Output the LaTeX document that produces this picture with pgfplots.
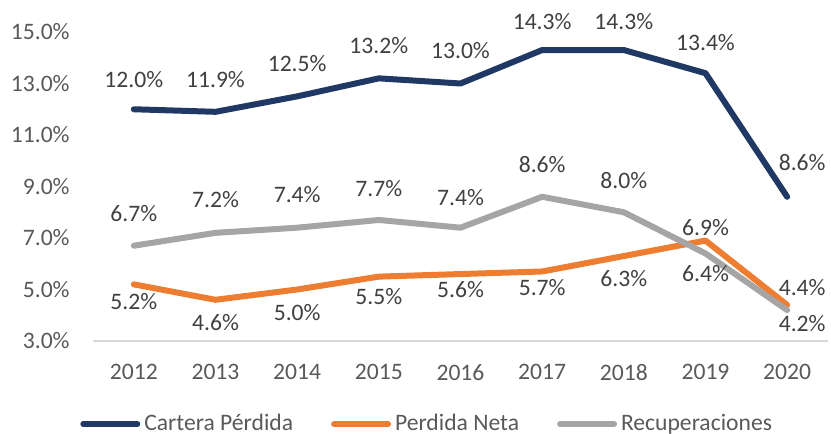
\documentclass[border=0pt]{standalone}
\usepackage{pgfplots}
\pgfplotsset{compat=1.18}
\usepackage{pgfplotstable}
\usepackage{fontspec}
\setmainfont{Carlito}

\definecolor{navy}{HTML}{1F3864}
\definecolor{orng}{HTML}{ED7D31}
\definecolor{gry}{HTML}{A5A5A5}
\definecolor{txt}{HTML}{595959}
\definecolor{lbl}{HTML}{404040}
\definecolor{axgray}{HTML}{D9D9D9}

% year, value, label text, label x/y offset (pt)
\pgfplotstableread{
year val lab lx ly
2012 12.0 12.0 0 15
2013 11.9 11.9 0 16
2014 12.5 12.5 0 16.5
2015 13.2 13.2 0 16.5
2016 13.0 13.0 0 16.7
2017 14.3 14.3 0 14
2018 14.3 14.3 0 14
2019 13.4 13.4 0 15.5
2020 8.6 8.6 7.5 17
}\cartera

\pgfplotstableread{
year val lab lx ly
2012 5.2 5.2 0 -8.5
2013 4.6 4.6 0 -11.5
2014 5.0 5.0 0 -11.7
2015 5.5 5.5 0 -10.2
2016 5.6 5.6 0 -7.5
2017 5.7 5.7 0 -8.2
2018 6.3 6.3 0 -11.5
2019 6.9 6.9 0 6.3
2020 4.4 4.4 7.5 8.5
}\neta

\pgfplotstableread{
year val lab lx ly
2012 6.7 6.7 0 16.3
2013 7.2 7.2 0 16.5
2014 7.4 7.4 0 16.8
2015 7.7 7.7 0 15.5
2016 7.4 7.4 0 15.3
2017 8.6 8.6 0 15.9
2018 8.0 8.0 0 16
2019 6.4 6.4 0 -10.2
2020 4.2 4.2 7.5 -6.5
}\recup

\begin{document}
\begin{tikzpicture}[font=\fontsize{11.8}{14}\selectfont]
\begin{axis}[
    name=ax,
    scale only axis,
    width=367.5pt, height=154.5pt,
    xmin=2011.5, xmax=2020.5,
    ymin=3, ymax=15,
    xtick={2012,2013,...,2020},
    ytick={3,5,...,15},
    /pgf/number format/assume math mode=true,
    xticklabel={\pgfmathprintnumber[1000 sep={}]{\tick}},
    yticklabel={\pgfmathprintnumber[fixed,fixed zerofill,precision=1]{\tick}\%},
    axis lines*=left,
    y axis line style={draw=none},
    x axis line style={draw=axgray, line width=0.75pt},
    major tick length=0pt,
    yticklabel style={text=txt, anchor=east, inner sep=0pt, xshift=-11.5pt},
    xticklabel style={text=txt, anchor=north, inner sep=0pt, yshift=-11.5pt},
    clip=false,
    every axis plot/.append style={line width=3pt, line join=round, line cap=round},
    nodes near coords={\pgfplotspointmeta\%},
    point meta=explicit symbolic,
    visualization depends on={\thisrow{lx} \as \lblx},
    visualization depends on={\thisrow{ly} \as \lbly},
    every node near coord/.append style={anchor=center, text=lbl, inner sep=0pt,
        xshift=\lblx pt, yshift=\lbly pt},
    legend style={at={(0.456,-0.269)}, anchor=center, draw=none, fill=none,
        text=txt, legend columns=-1,
        /tikz/every even column/.append style={column sep=17pt}},
    legend image code/.code={\draw[#1, line width=3pt, line cap=round] (0pt,0pt) -- (27pt,0pt);},
]
\addplot[navy, no marks] table[x=year, y=val, meta=lab] {\cartera};
\addlegendentry{Cartera Pérdida}
\addplot[orng, no marks] table[x=year, y=val, meta=lab] {\neta};
\addlegendentry{Perdida Neta}
\addplot[gry, no marks] table[x=year, y=val, meta=lab] {\recup};
\addlegendentry{Recuperaciones}
\coordinate (ll) at (rel axis cs:0,0);
\end{axis}
\pgfresetboundingbox
\path[use as bounding box] ([shift={(-46.5pt,-46.5pt)}]ll) rectangle ([shift={(369pt,170.5pt)}]ll);
\end{tikzpicture}
\end{document}
